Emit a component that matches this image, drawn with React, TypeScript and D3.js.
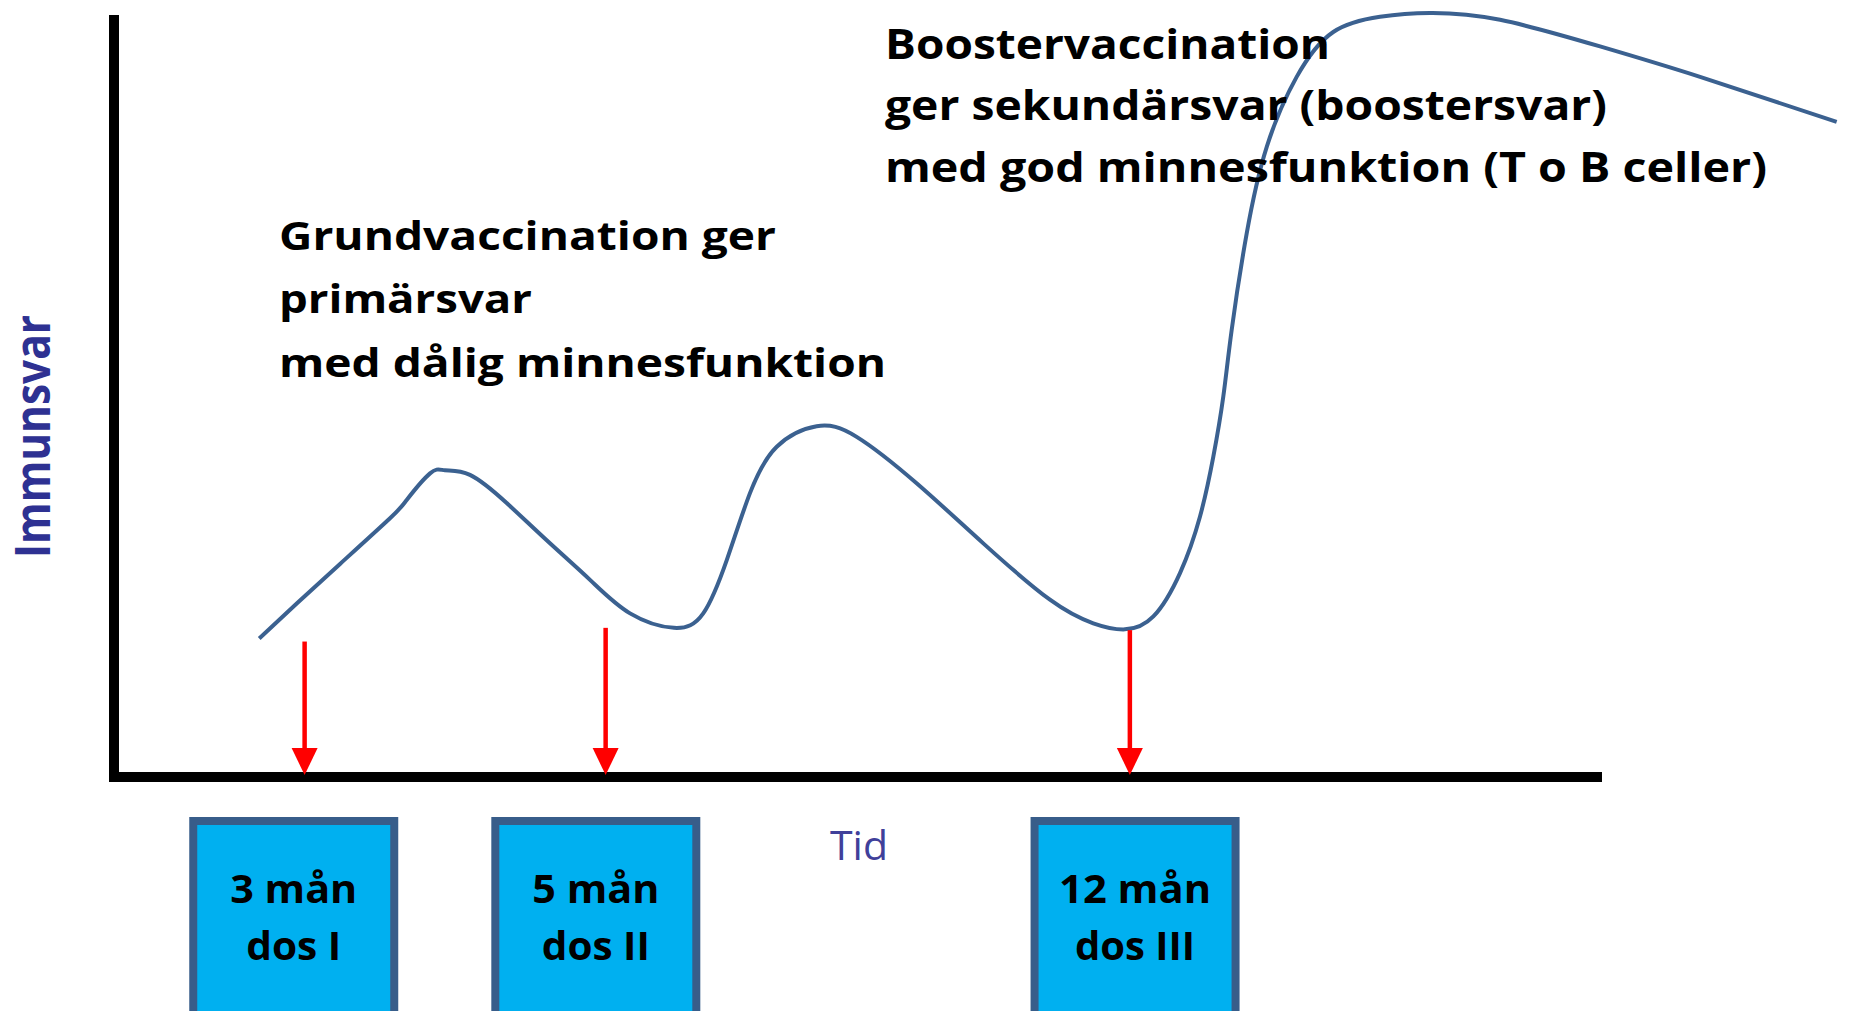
import React from "react";
import * as d3 from "d3";

const width = 1851;
const height = 1011;

// schematic immune response, arbitrary time / level units
const responseTime = [97.6, 122.8, 151.9, 185.5, 196.7, 212.4, 222.4, 239.2, 263.9, 290.8, 319.9, 346.8, 376.3, 396.0, 411.8, 427.4, 445.4, 472.2, 499.1, 539.4, 584.2, 629.0, 658.1, 679.4, 698.5, 716.4, 729.8, 738.8, 745.5, 751.1, 761.2, 774.7, 794.8, 819.4, 850.8, 884.4, 931.5, 998.7, 1065.9, 1157.7];
const responseLevel = [18.2, 22.8, 28.0, 34.0, 36.4, 39.9, 40.3, 39.7, 36.0, 31.1, 25.9, 21.5, 19.6, 21.5, 28.5, 37.3, 43.4, 46.1, 44.7, 38.6, 30.7, 23.3, 20.2, 19.4, 21.1, 26.8, 34.2, 42.1, 50.0, 58.7, 71.4, 82.8, 92.0, 97.9, 99.9, 100.4, 99.5, 96.0, 92.0, 86.1];

// doses
const doseMonths = ["3 mån", "5 mån", "12 mån"];
const doseNames = ["dos I", "dos II", "dos III"];
const doseTime = [128.1, 330.4, 682.7];
const arrowFrom = [17.8, 19.6, 19.3];
const labelTime = [120.8, 323.8, 686.2];

// texts
const primaryLines = ["Grundvaccination ger", "primärsvar", "med dålig minnesfunktion"];
const boosterLines = [
  "Boostervaccination",
  "ger sekundärsvar (boostersvar)",
  "med god minnesfunktion (T o B celler)",
];
const xLabel = "Tid";
const yLabel = "Immunsvar";

// layout (pixels)
const primaryLayout = { x: 279, y: 250, step: 63.3, widths: [497, 253, 607] };
const boosterLayout = { x: 885, y: 58.5, step: 61.7, widths: [445, 722, 882] };
const boxWidths = [
  [127, 95],
  [127, 108],
  [152, 120],
];
const font = "'Open Sans', 'Noto Sans', sans-serif";

export default function App() {
  const x = d3.scaleLinear().domain([0, 1000]).range([114, 1602]);
  const y = d3.scaleLinear().domain([0, 100]).range([777, 16]);

  const line = d3
    .line<number>()
    .x((t) => x(t))
    .y((_, i) => y(responseLevel[i]))
    .curve(d3.curveNatural);

  const boxW = 201; // inner width, stroke sits on the edge
  const boxTop = 821;
  const headW = 26;
  const headH = 27;

  return (
    <svg
      width={width}
      height={height}
      style={{ position: "absolute", left: 0, top: 0, background: "#fff" }}
      fontFamily={font}
    >
      {/* axes */}
      <line x1={x(0)} x2={x(0)} y1={y(100) - 1} y2={y(0) + 5} stroke="#000" strokeWidth={10} />
      <line x1={x(0) - 5} x2={x(1000)} y1={y(0)} y2={y(0)} stroke="#000" strokeWidth={10} />

      {/* response curve */}
      <path d={line(responseTime) || ""} fill="none" stroke="#3B6190" strokeWidth={4} />

      {/* dose arrows */}
      {doseTime.map((t, i) => {
        const cx = x(t);
        const tip = y(0) - 2;
        return (
          <g key={i}>
            <line x1={cx} x2={cx} y1={y(arrowFrom[i])} y2={tip - headH + 2} stroke="#FF0000" strokeWidth={4.5} />
            <path
              d={`M${cx - headW / 2},${tip - headH}L${cx + headW / 2},${tip - headH}L${cx},${tip}Z`}
              fill="#FF0000"
            />
          </g>
        );
      })}

      {/* dose boxes */}
      {labelTime.map((t, i) => {
        const cx = x(t);
        return (
          <g key={i}>
            <rect
              x={cx - boxW / 2}
              y={boxTop}
              width={boxW}
              height={240}
              fill="#00B0F0"
              stroke="#385D8A"
              strokeWidth={8}
            />
            <text
              x={cx}
              y={903}
              textAnchor="middle"
              fontSize={40}
              fontWeight={700}
              textLength={boxWidths[i][0]}
              lengthAdjust="spacingAndGlyphs"
            >
              {doseMonths[i]}
            </text>
            <text
              x={cx}
              y={960}
              textAnchor="middle"
              fontSize={40}
              fontWeight={700}
              textLength={boxWidths[i][1]}
              lengthAdjust="spacingAndGlyphs"
            >
              {doseNames[i]}
            </text>
          </g>
        );
      })}

      {/* annotations */}
      {primaryLines.map((s, i) => (
        <text
          key={"p" + i}
          x={primaryLayout.x}
          y={primaryLayout.y + i * primaryLayout.step}
          fontSize={40}
          fontWeight={700}
          fill="#000"
          textLength={primaryLayout.widths[i]}
          lengthAdjust="spacingAndGlyphs"
        >
          {s}
        </text>
      ))}
      {boosterLines.map((s, i) => (
        <text
          key={"b" + i}
          x={boosterLayout.x}
          y={boosterLayout.y + i * boosterLayout.step}
          fontSize={41}
          fontWeight={700}
          fill="#000"
          textLength={boosterLayout.widths[i]}
          lengthAdjust="spacingAndGlyphs"
        >
          {s}
        </text>
      ))}

      {/* axis labels */}
      <text x={830} y={860} fontSize={40} fill="#40409A" textLength={58} lengthAdjust="spacingAndGlyphs">
        {xLabel}
      </text>
      <text
        transform="translate(50,436.5) rotate(-90)"
        textAnchor="middle"
        fontSize={48}
        fontWeight={700}
        fill="#2E3192"
        textLength={243}
        lengthAdjust="spacingAndGlyphs"
      >
        {yLabel}
      </text>
    </svg>
  );
}
